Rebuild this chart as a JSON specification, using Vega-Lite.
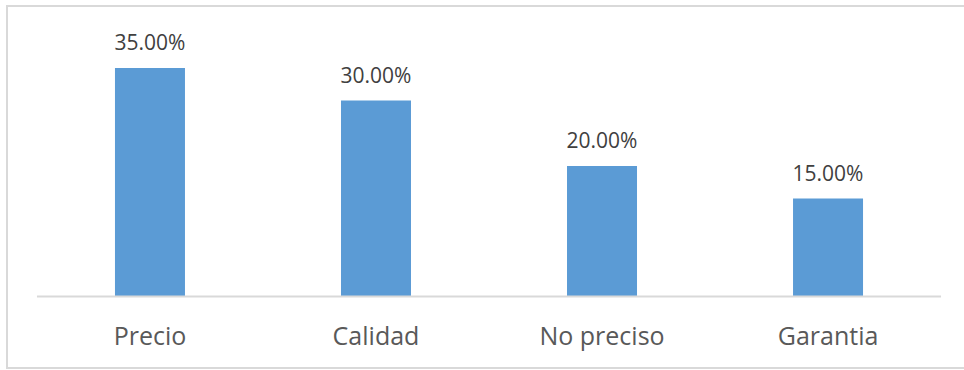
{
  "$schema": "https://vega.github.io/schema/vega-lite/v6.json",
  "width": 966,
  "height": 362,
  "autosize": {"type": "none"},
  "padding": {"left": 7, "top": 6, "right": 0, "bottom": 2},
  "background": "white",
  "config": {
    "view": {"stroke": "#d9d9d9", "strokeWidth": 2},
    "font": "Open Sans",
    "axisX": {
      "title": null,
      "domain": false,
      "ticks": false,
      "grid": false,
      "labelAngle": 0,
      "labelFontSize": 25,
      "labelColor": "#595959",
      "labelBaseline": "alphabetic",
      "labelPadding": 47.5,
      "offset": -71.5
    }
  },
  "datasets": {
    "shares": [
      {"motivo": "Precio", "share": 0.35},
      {"motivo": "Calidad", "share": 0.30},
      {"motivo": "No preciso", "share": 0.20},
      {"motivo": "Garantia", "share": 0.15}
    ],
    "baseline": [
      {"motivo": "Precio", "hasta": "Garantia", "share": 0}
    ]
  },
  "layer": [
    {
      "data": {"name": "shares"},
      "mark": {"type": "bar", "size": 70, "color": "#5B9BD5"},
      "encoding": {
        "x": {
          "field": "motivo",
          "type": "nominal",
          "sort": null,
          "scale": {
            "domain": ["Precio", "Calidad", "No preciso", "Garantia"],
            "paddingInner": 0,
            "paddingOuter": 0.137,
            "align": 0.4839
          },
          "axis": {"title": null}
        },
        "y": {
          "field": "share",
          "type": "quantitative",
          "scale": {"domain": [-0.1095, 0.4449], "nice": false, "zero": false},
          "axis": null
        }
      }
    },
    {
      "data": {"name": "shares"},
      "mark": {
        "type": "text",
        "baseline": "alphabetic",
        "dy": -18,
        "fontSize": 21,
        "color": "#404040"
      },
      "encoding": {
        "x": {"field": "motivo", "type": "nominal", "sort": null, "axis": {"title": null}},
        "y": {"field": "share", "type": "quantitative", "axis": null},
        "text": {"field": "share", "type": "quantitative", "format": ".2%"}
      }
    },
    {
      "data": {"name": "baseline"},
      "mark": {"type": "rule", "color": "#d9d9d9", "strokeWidth": 2},
      "encoding": {
        "x": {"field": "motivo", "type": "nominal", "sort": null, "bandPosition": 0, "axis": {"title": null}},
        "x2": {"field": "hasta", "bandPosition": 1},
        "y": {"field": "share", "type": "quantitative", "axis": null}
      }
    }
  ]
}
